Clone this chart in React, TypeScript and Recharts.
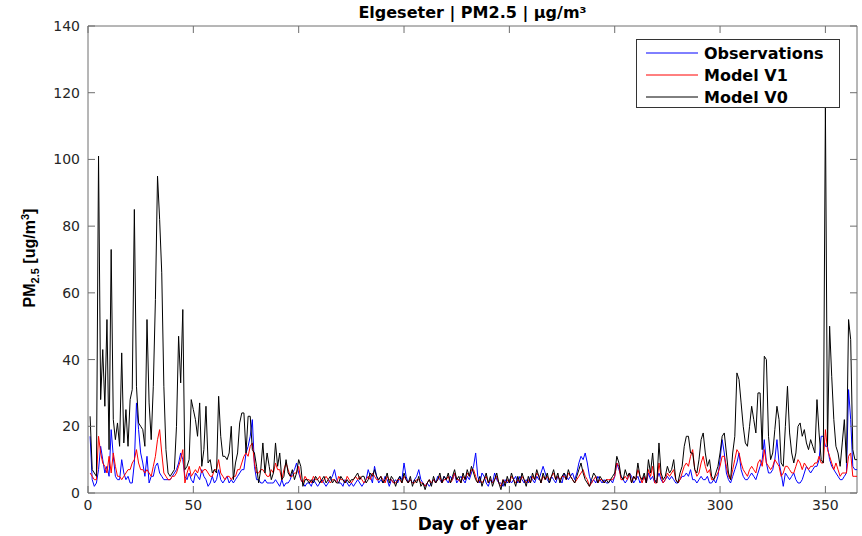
import { LineChart, Line, XAxis, YAxis, Legend, ReferenceLine } from "recharts";

// day-of-year readings, days 1..365
const observations = [
  17, 4, 2, 3, 7, 14, 10, 6, 8, 5,
  19, 11, 5, 4, 4, 10, 6, 4, 5, 3,
  3, 9, 27, 19, 12, 9, 5, 11, 3, 5,
  5, 8, 9, 6, 5, 4, 4, 4, 4, 5,
  6, 7, 9, 12, 10, 5, 4, 6, 4, 3,
  6, 5, 4, 7, 5, 4, 2, 3, 5, 3,
  4, 7, 4, 3, 4, 5, 3, 4, 3, 4,
  5, 6, 7, 7, 12, 14, 17, 22, 8, 4,
  4, 3, 3, 4, 3, 3, 3, 3, 4, 3,
  2, 4, 2, 3, 3, 4, 6, 7, 9, 6,
  4, 3, 2, 3, 3, 2, 4, 3, 2, 3,
  4, 3, 2, 3, 4, 5, 7, 4, 3, 3,
  2, 4, 3, 2, 3, 2, 3, 4, 3, 2,
  3, 4, 7, 5, 3, 8, 5, 3, 4, 3,
  5, 4, 2, 4, 3, 4, 3, 5, 4, 9,
  5, 3, 4, 3, 4, 5, 7, 4, 3, 2,
  3, 2, 3, 4, 3, 5, 4, 3, 5, 4,
  3, 5, 4, 6, 3, 4, 5, 4, 3, 5,
  4, 6, 8, 12, 5, 3, 6, 5, 3, 2,
  4, 3, 6, 4, 3, 3, 2, 4, 3, 4,
  3, 4, 5, 3, 5, 4, 3, 4, 3, 5,
  4, 3, 5, 4, 6, 8, 6, 4, 3, 5,
  4, 3, 5, 4, 3, 6, 5, 4, 5, 6,
  4, 6, 9, 11, 10, 12, 9, 5, 3, 4,
  3, 5, 4, 3, 4, 3, 3, 4, 3, 5,
  9, 7, 5, 4, 3, 4, 6, 5, 3, 4,
  5, 3, 4, 5, 3, 6, 4, 5, 3, 4,
  6, 4, 3, 4, 5, 4, 5, 4, 3, 3,
  4, 5, 5, 6, 5, 7, 4, 4, 3, 4,
  5, 4, 4, 5, 3, 3, 4, 3, 5, 10,
  16, 12, 6, 4, 3, 5, 7, 9, 12, 7,
  5, 4, 4, 5, 6, 5, 4, 6, 8, 10,
  16, 9, 6, 6, 7, 10, 16, 9, 6, 2,
  6, 5, 4, 5, 6, 4, 3, 3, 4, 6,
  8, 7, 6, 7, 8, 8, 10, 17, 17, 14,
  14, 10, 8, 7, 6, 5, 4, 4, 5, 6,
  31, 22, 8, 7, 7,
];

const modelV1 = [
  6, 5, 4, 4, 17, 12, 9, 8, 6, 11,
  6, 12, 8, 5, 5, 4, 5, 6, 7, 7,
  9, 10, 13, 9, 7, 7, 6, 7, 6, 5,
  8, 11, 16, 19, 12, 6, 5, 4, 4, 5,
  5, 6, 8, 10, 13, 3, 6, 8, 5, 6,
  7, 6, 8, 6, 7, 7, 6, 5, 5, 7,
  7, 10, 6, 5, 4, 5, 5, 4, 5, 5,
  7, 7, 9, 11, 12, 11, 14, 15, 9, 6,
  6, 7, 7, 6, 5, 5, 7, 6, 9, 7,
  7, 4, 7, 9, 7, 5, 5, 6, 6, 8,
  4, 3, 5, 4, 4, 3, 5, 4, 4, 5,
  3, 4, 5, 4, 3, 4, 4, 3, 5, 4,
  4, 3, 5, 4, 3, 4, 5, 4, 5, 4,
  3, 4, 5, 4, 6, 5, 4, 4, 5, 4,
  3, 5, 4, 4, 3, 3, 4, 4, 3, 5,
  4, 3, 4, 3, 3, 4, 4, 3, 3, 2,
  3, 4, 3, 4, 3, 4, 5, 3, 4, 4,
  5, 3, 4, 6, 4, 4, 3, 5, 4, 6,
  5, 7, 7, 5, 3, 4, 3, 4, 5, 3,
  4, 3, 4, 5, 3, 2, 4, 3, 4, 3,
  5, 4, 3, 4, 3, 5, 4, 3, 4, 3,
  5, 4, 6, 5, 3, 5, 4, 5, 4, 5,
  6, 4, 5, 4, 5, 5, 4, 6, 5, 4,
  3, 4, 5, 6, 7, 5, 4, 2, 3, 4,
  5, 3, 4, 4, 3, 4, 4, 4, 4, 5,
  9, 8, 4, 4, 5, 4, 6, 3, 5, 4,
  7, 5, 3, 5, 3, 7, 5, 8, 3, 3,
  9, 5, 3, 4, 6, 5, 6, 7, 4, 3,
  4, 6, 8, 9, 8, 11, 13, 7, 5, 6,
  9, 11, 8, 6, 7, 4, 4, 5, 6, 8,
  11, 11, 8, 5, 4, 7, 10, 13, 12, 9,
  7, 6, 5, 7, 8, 7, 6, 9, 10, 8,
  13, 9, 8, 7, 8, 10, 9, 8, 5, 6,
  8, 8, 7, 6, 6, 8, 10, 9, 7, 9,
  8, 7, 8, 8, 9, 9, 11, 9, 9, 19,
  13, 11, 9, 7, 9, 7, 5, 6, 6, 6,
  11, 12, 5, 5, 5,
];

const modelV0 = [
  23, 7, 6, 5, 101, 28, 43, 26, 52, 13,
  73, 22, 16, 21, 14, 42, 15, 25, 14, 28,
  31, 85, 32, 21, 20, 19, 14, 52, 27, 16,
  32, 58, 95, 82, 66, 32, 13, 6, 5, 6,
  7, 20, 47, 33, 55, 7, 8, 10, 28, 25,
  22, 17, 27, 8, 13, 26, 9, 10, 6, 7,
  6, 29, 17, 11, 11, 10, 12, 20, 4, 9,
  12, 21, 24, 24, 12, 23, 23, 13, 12, 8,
  3, 7, 15, 6, 12, 8, 4, 6, 15, 8,
  12, 4, 5, 10, 6, 5, 7, 4, 6, 10,
  8, 2, 4, 4, 3, 4, 3, 5, 4, 3,
  4, 5, 3, 4, 5, 3, 4, 3, 3, 5,
  4, 3, 4, 3, 4, 4, 5, 6, 4, 5,
  5, 3, 4, 6, 5, 7, 5, 4, 5, 3,
  4, 6, 3, 5, 4, 2, 4, 5, 3, 6,
  4, 3, 5, 2, 4, 3, 5, 2, 3, 1,
  3, 4, 2, 5, 3, 4, 6, 3, 5, 4,
  6, 3, 5, 7, 4, 5, 3, 6, 4, 7,
  5, 8, 6, 4, 3, 5, 2, 4, 6, 3,
  5, 2, 4, 6, 3, 1, 4, 2, 5, 3,
  6, 4, 2, 5, 3, 6, 4, 2, 5, 3,
  6, 4, 7, 5, 3, 6, 4, 6, 3, 5,
  7, 4, 6, 3, 5, 6, 4, 7, 5, 4,
  3, 5, 7, 9, 6, 4, 3, 2, 4, 6,
  5, 3, 5, 4, 3, 4, 3, 4, 5, 6,
  11, 9, 5, 4, 7, 5, 6, 3, 5, 4,
  9, 5, 4, 6, 3, 10, 6, 12, 4, 3,
  15, 6, 4, 5, 8, 6, 7, 10, 4, 3,
  6, 8, 14, 17, 17, 12, 12, 7, 6, 10,
  16, 18, 12, 8, 10, 5, 4, 6, 8, 12,
  17, 18, 12, 6, 4, 12, 17, 36, 34, 27,
  20, 15, 14, 20, 26, 22, 18, 30, 30, 13,
  41, 40, 17, 10, 12, 19, 26, 22, 9, 8,
  20, 32, 18, 12, 9, 12, 20, 21, 17, 19,
  15, 13, 16, 14, 12, 28, 18, 10, 9, 116,
  14, 50, 35, 22, 14, 12, 8, 15, 22, 9,
  52, 46, 13, 10, 10,
];

const xTicks = [0, 50, 100, 150, 200, 250, 300, 350];
const yTicks = [0, 20, 40, 60, 80, 100, 120, 140];

const series = [
  { key: "obs", name: "Observations", color: "#0000ff" },
  { key: "v1", name: "Model V1", color: "#ff0000" },
  { key: "v0", name: "Model V0", color: "#000000" },
];

const data = observations.map((v, i) => ({
  day: i + 1,
  obs: v,
  v1: modelV1[i],
  v0: modelV0[i],
}));

const W = 862;
const H = 536;
const TOP = 26;
const LEFT = 88;
const RIGHT = 857;
const BOTTOM = 493;
const AXIS = "#6e6e6e";
const TEXT = "#262626";
const WIDE = "'DejaVu Sans', sans-serif";

const XTick = (props: any) => {
  const { x, y, payload } = props;
  return (
    <g>
      <line x1={x} x2={x} y1={y} y2={y - 7} stroke={AXIS} />
      <line x1={x} x2={x} y1={TOP} y2={TOP + 7} stroke={AXIS} />
      <text x={x} y={y + 17} textAnchor="middle" fontFamily={WIDE} fontSize={14} fill={TEXT}>
        {payload.value}
      </text>
    </g>
  );
};

const YTick = (props: any) => {
  const { x, y, payload } = props;
  return (
    <g>
      <line x1={x} x2={x + 7} y1={y} y2={y} stroke={AXIS} />
      <line x1={RIGHT - 7} x2={RIGHT} y1={y} y2={y} stroke={AXIS} />
      <text x={x - 8} y={y + 5} textAnchor="end" fontFamily={WIDE} fontSize={14} fill={TEXT}>
        {payload.value}
      </text>
    </g>
  );
};

const XLabel = () => (
  <text x={(LEFT + RIGHT) / 2} y={530} textAnchor="middle" fontFamily={WIDE} fontWeight="bold" fontSize={17} fill="#000">
    Day of year
  </text>
);

const YLabel = () => (
  <text
    transform={`translate(35,258) rotate(-90)`}
    textAnchor="middle"
    fontFamily="'Liberation Sans', Arial, sans-serif"
    fontWeight="bold"
    fontSize={16}
    fill="#000"
  >
    <tspan>PM</tspan>
    <tspan fontSize={11} dy={4}>2.5</tspan>
    <tspan dy={-4}> [ug/m</tspan>
    <tspan fontSize={11} dy={-6}>3</tspan>
    <tspan dy={6}>]</tspan>
  </text>
);

const LegendBox = () => (
  <div
    style={{
      width: 204,
      height: 69,
      boxSizing: "border-box",
      border: "1px solid #333",
      background: "#fff",
      paddingTop: 2,
    }}
  >
    {series.map((s) => (
      <div key={s.key} style={{ display: "flex", alignItems: "center", height: 22 }}>
        <svg width={52} height={4} style={{ marginLeft: 9, display: "block" }}>
          <line x1={0} x2={52} y1={2} y2={2} stroke={s.color} strokeWidth={1} />
        </svg>
        <span style={{ marginLeft: 6, fontFamily: WIDE, fontWeight: "bold", fontSize: 16, color: "#000" }}>
          {s.name}
        </span>
      </div>
    ))}
  </div>
);

export default function App() {
  return (
    <div style={{ position: "absolute", left: 0, top: 0, width: W, height: H, background: "#fff" }}>
      <div
        style={{
          position: "absolute",
          top: 3,
          left: LEFT,
          width: RIGHT - LEFT,
          textAlign: "center",
          fontFamily: WIDE,
          fontWeight: "bold",
          fontSize: 16,
          color: "#000",
        }}
      >
        Elgeseter | PM2.5 | µg/m³
      </div>
      <LineChart width={W} height={H} data={data} margin={{ top: TOP, right: W - RIGHT, bottom: 0, left: 0 }}>
        <XAxis
          dataKey="day"
          type="number"
          domain={[0, 365]}
          ticks={xTicks}
          height={H - BOTTOM}
          tickSize={0}
          tickMargin={0}
          tickLine={false}
          tick={<XTick />}
          axisLine={{ stroke: AXIS }}
          label={<XLabel />}
        />
        <YAxis
          type="number"
          domain={[0, 140]}
          ticks={yTicks}
          width={LEFT}
          tickSize={0}
          tickMargin={0}
          tickLine={false}
          tick={<YTick />}
          axisLine={{ stroke: AXIS }}
          label={<YLabel />}
        />
        <ReferenceLine y={140} stroke={AXIS} />
        <ReferenceLine x={365} stroke={AXIS} />
        <Legend
          layout="vertical"
          align="center"
          verticalAlign="middle"
          wrapperStyle={{ left: 636, top: 39, width: 204 }}
          content={<LegendBox />}
        />
        {series.map((s) => (
          <Line
            key={s.key}
            name={s.name}
            dataKey={s.key}
            type="linear"
            stroke={s.color}
            strokeWidth={1}
            dot={false}
            activeDot={false}
            isAnimationActive={false}
          />
        ))}
      </LineChart>
    </div>
  );
}
